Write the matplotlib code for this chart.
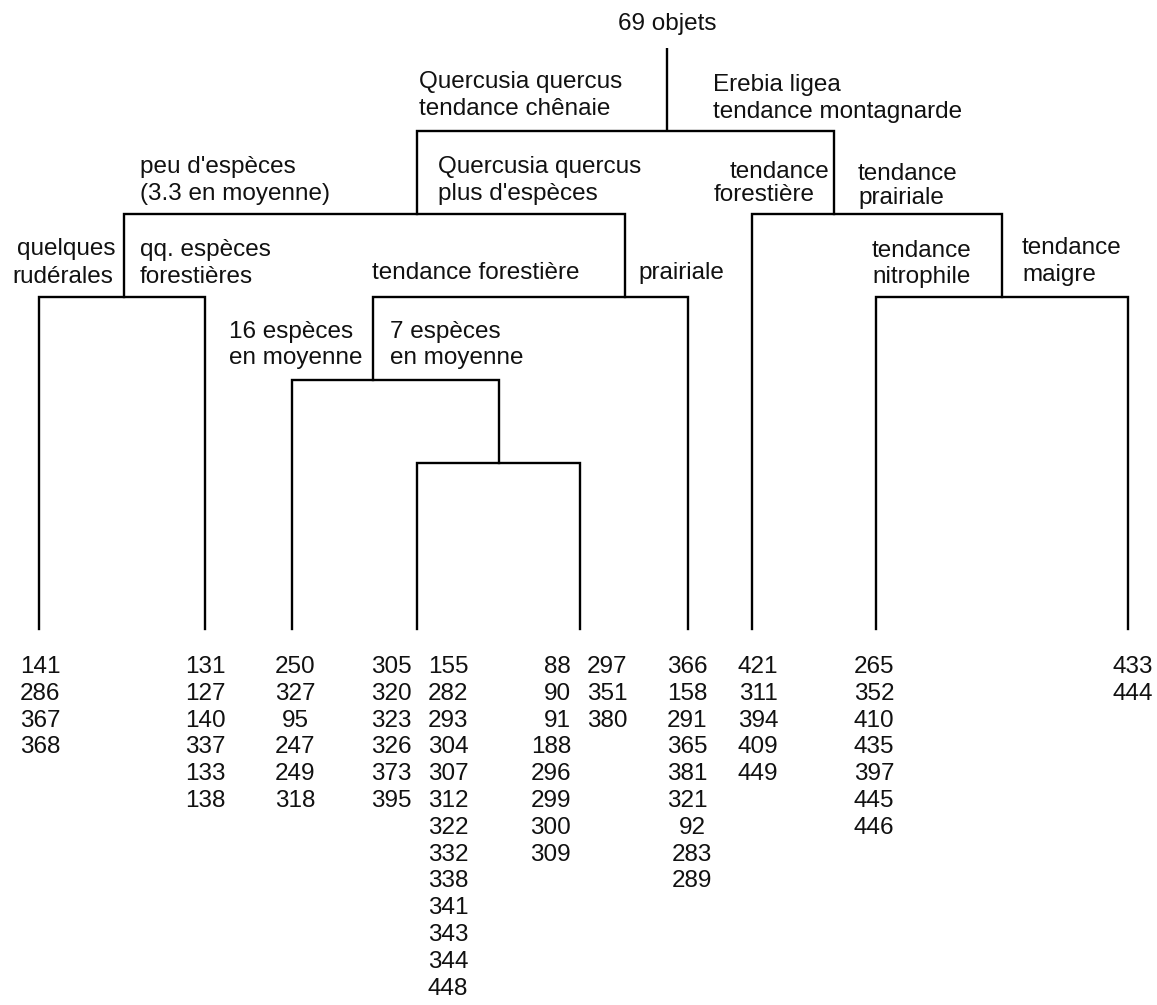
import matplotlib
matplotlib.use("Agg")
import matplotlib.pyplot as plt

plt.rcParams['font.family'] = ['Liberation Sans', 'DejaVu Sans']

# ---------------- data ----------------
# merges: (child_a, child_b, level) ; leaves are 0..8, internal nodes 9..16
merge_a = [3, 2, 10, 0, 12, 7, 6, 13]
merge_b = [4, 9, 5, 1, 11, 8, 14, 15]
merge_level = [2, 3, 4, 4, 5, 4, 5, 6]
root_level = 7
n_leaves = 9

# objects in each group (columns of labels)
grp_a1 = ['141', '286', '367', '368']
grp_a2 = ['131', '127', '140', '337', '133', '138']
grp_b1 = ['250', '327', '95', '247', '249', '318']
grp_c1 = ['305', '320', '323', '326', '373', '395']
grp_c2 = ['155', '282', '293', '304', '307', '312', '322', '332', '338',
          '341', '343', '344', '448']
grp_d1 = ['88', '90', '91', '188', '296', '299', '300', '309']
grp_d2 = ['297', '351', '380']
grp_e1 = ['366', '158', '291', '365', '381', '321']
grp_e2 = ['92', '283', '289']
grp_f1 = ['421', '311', '394', '409', '449']
grp_g1 = ['265', '352', '410', '435', '397', '445', '446']
grp_h1 = ['433', '444']

# ---------------- layout ----------------
node_x = [39, 205, 292, 417, 580, 688, 752, 876, 1128,   # leaves
          499, 373, 625, 124, 417, 1002, 834, 667]        # internal nodes

# (x, ha, first row, labels)
label_cols = [
    (40, 'center', 0, grp_a1),
    (205, 'center', 0, grp_a2),
    (295, 'center', 0, grp_b1),
    (391, 'center', 0, grp_c1),
    (448, 'center', 0, grp_c2),
    (571, 'right', 0, grp_d1),
    (607, 'center', 0, grp_d2),
    (687, 'center', 0, grp_e1),
    (692, 'center', 6, grp_e2),
    (758, 'center', 0, grp_f1),
    (874, 'center', 0, grp_g1),
    (1133, 'center', 0, grp_h1),
]
row0 = 673
row_step = 26.8

# annotations: (x, baseline y, ha, text)
notes = [
    (667, 30, 'center', '69 objets'),
    (419, 88, 'left', 'Quercusia quercus'),
    (419, 115, 'left', 'tendance chênaie'),
    (713, 91, 'left', 'Erebia ligea'),
    (713, 118, 'left', 'tendance montagnarde'),
    (140, 173, 'left', "peu d'espèces"),
    (140, 200, 'left', '(3.3 en moyenne)'),
    (438, 173, 'left', 'Quercusia quercus'),
    (438, 200, 'left', "plus d'espèces"),
    (829, 178, 'right', 'tendance'),
    (815, 201, 'right', 'forestière'),
    (858, 180, 'left', 'tendance'),
    (858, 204, 'left', 'prairiale'),
    (115, 255, 'right', 'quelques'),
    (113, 283, 'right', 'rudérales'),
    (140, 256, 'left', 'qq. espèces'),
    (140, 283, 'left', 'forestières'),
    (372, 279, 'left', 'tendance forestière'),
    (638, 279, 'left', 'prairiale'),
    (872, 257, 'left', 'tendance'),
    (872, 283, 'left', 'nitrophile'),
    (1022, 254, 'left', 'tendance'),
    (1022, 281, 'left', 'maigre'),
    (229, 338, 'left', '16 espèces'),
    (229, 364, 'left', 'en moyenne'),
    (390, 338, 'left', '7 espèces'),
    (390, 364, 'left', 'en moyenne'),
]

FS = 17.5
LW = 1.7
W, H = 1157, 1005

fig = plt.figure(figsize=(W / 100, H / 100), dpi=100)
fig.patch.set_facecolor('white')

# tree axes: y in merge levels (level 0 at pixel 629, 83 px per level)
ax = fig.add_axes([0, 0, 1, 1])
ax.set_xlim(0, W)
ax.set_ylim((629 - H) / 83.0, 629 / 83.0)
ax.axis('off')

node_h = [0] * n_leaves + merge_level
for a, b, h in zip(merge_a, merge_b, merge_level):
    xa, xb = node_x[a], node_x[b]
    ax.plot([xa, xa, xb, xb], [node_h[a], h, h, node_h[b]],
            color='black', lw=LW, solid_capstyle='projecting',
            solid_joinstyle='miter')
root = n_leaves + len(merge_level) - 1
ax.plot([node_x[root], node_x[root]], [node_h[root], root_level],
        color='black', lw=LW, solid_capstyle='butt')

# text axes in pixel coordinates
tx = fig.add_axes([0, 0, 1, 1])
tx.set_xlim(0, W)
tx.set_ylim(H, 0)
tx.axis('off')
tx.patch.set_alpha(0)

for x, ha, r0, labels in label_cols:
    for i, lab in enumerate(labels):
        tx.text(x, row0 + (r0 + i) * row_step, lab, ha=ha, va='baseline',
                fontsize=FS, color='#111111')

for x, y, ha, s in notes:
    tx.text(x, y, s, ha=ha, va='baseline', fontsize=FS, color='#111111')

fig.savefig('out.png', dpi=100, facecolor='white')
